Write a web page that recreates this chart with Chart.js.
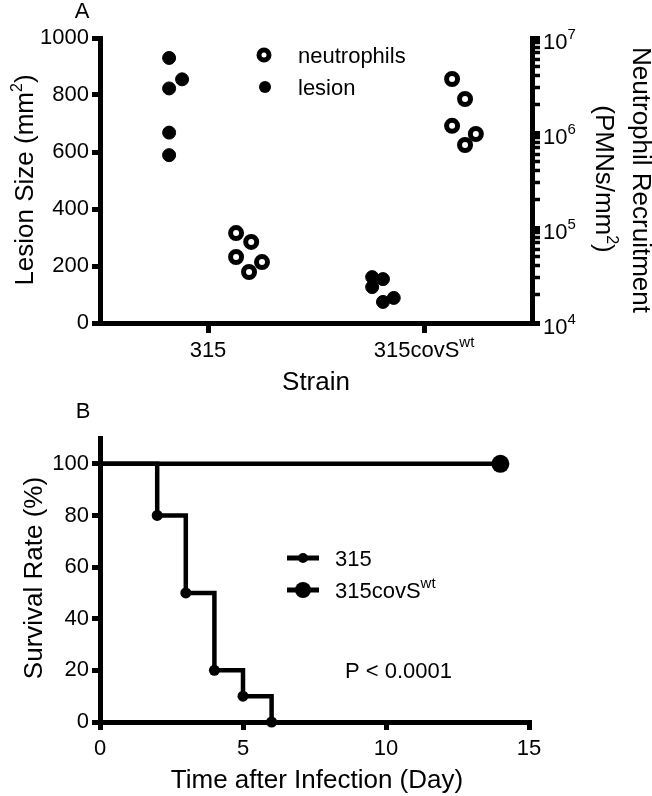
<!DOCTYPE html>
<html>
<head>
<meta charset="utf-8">
<script src="https://cdn.jsdelivr.net/npm/chart.js@4"></script>
<style>
  body { margin: 0; background: #fff; }
  #wrap { position: relative; width: 652px; height: 796px; }
  canvas { position: absolute; left: 0; }
  #top { top: 0; }
  #bottom { top: 390px; }
</style>
</head>
<body>
<div id="wrap">
  <canvas id="top" width="652" height="390"></canvas>
  <canvas id="bottom" width="652" height="406"></canvas>
</div>
<script>
// panel A
const strains = ['315', '315covS'];
const strainSup = ['', 'wt'];
const lesion315 = [930, 855, 823, 668, 589];
const lesion315Jitter = [-0.18, -0.12, -0.18, -0.18, -0.18];
const lesionCovS = [161, 154, 126, 74, 88];
const lesionCovSJitter = [-0.24, -0.19, -0.24, -0.19, -0.14];
const neutro315 = [88500, 71300, 49500, 43800, 34400];
const neutro315Jitter = [0.13, 0.2, 0.13, 0.25, 0.19];
const neutroCovS = [3700000, 2280000, 1190000, 976000, 748000];
const neutroCovSJitter = [0.13, 0.19, 0.13, 0.24, 0.19];
const lesionTicks = [0, 200, 400, 600, 800, 1000];
const neutroDecades = [4, 5, 6, 7];

// panel B
const days315 = [0, 2, 3, 4, 5, 6];
const survival315 = [100, 80, 50, 20, 10, 0];
const daysCovS = [0, 14];
const survivalCovS = [100, 100];
const survivalTicks = [0, 20, 40, 60, 80, 100];
const dayTicks = [0, 5, 10, 15];

const FONT = '"Liberation Sans", Arial, Helvetica, sans-serif';

function pts(cat, vals, jit) {
  return vals.map((v, i) => ({ x: cat + jit[i], y: v }));
}

// text with optional superscript parts: [[text, isSup], ...]
function drawRich(ctx, parts, x, y, o) {
  const size = o.size || 22;
  const supSize = o.supSize || Math.round(size * 0.62);
  const rise = o.rise || Math.round(size * 0.42);
  ctx.save();
  ctx.translate(x, y);
  if (o.angle) ctx.rotate(o.angle);
  ctx.fillStyle = '#000';
  ctx.textBaseline = 'alphabetic';
  ctx.textAlign = 'left';
  const widths = parts.map((p) => {
    ctx.font = (p[1] ? supSize : size) + 'px ' + FONT;
    return ctx.measureText(p[0]).width;
  });
  const total = widths.reduce((a, b) => a + b, 0);
  let cx = o.align === 'left' ? 0 : -total / 2;
  parts.forEach((p, i) => {
    ctx.font = (p[1] ? supSize : size) + 'px ' + FONT;
    ctx.fillText(p[0], cx, p[1] ? -rise : 0);
    cx += widths[i];
  });
  ctx.restore();
}

function axisStyle(tickLength) {
  return {
    border: { display: true, width: 5, color: '#000' },
    grid: {
      drawOnChartArea: false,
      drawTicks: true,
      tickLength: tickLength,
      tickWidth: 5,
      tickColor: '#000',
      lineWidth: 5,
      color: '#000',
    },
  };
}

const topLabels = {
  id: 'topLabels',
  afterDraw(chart) {
    const ctx = chart.ctx;
    const x = chart.scales.x;
    const yR = chart.scales.yR;
    drawRich(ctx, [['A']], 82, 18, { size: 22 });
    drawRich(ctx, [['Lesion Size (mm'], ['2', 1], [')']], 33, 180, { size: 26, angle: -Math.PI / 2 });
    drawRich(ctx, [['Neutrophil Recruitment']], 633, 180, { size: 26, angle: Math.PI / 2 });
    drawRich(ctx, [['(PMNs/mm'], ['2', 1], [')']], 596, 179, { size: 26, angle: Math.PI / 2 });
    strains.forEach((s, i) => {
      const parts = strainSup[i] ? [[s], [strainSup[i], 1]] : [[s]];
      drawRich(ctx, parts, x.getPixelForValue(i), 357, { size: 22, supSize: 15, rise: 10 });
    });
    drawRich(ctx, [['Strain']], 316, 390, { size: 26 });
    neutroDecades.forEach((e) => {
      const py = yR.getPixelForValue(Math.pow(10, e));
      drawRich(ctx, [['10'], [String(e), 1]], 543, py + 11, { size: 22, supSize: 15, rise: 10, align: 'left' });
    });
    // legend
    ctx.save();
    ctx.strokeStyle = '#000';
    ctx.fillStyle = '#fff';
    ctx.lineWidth = 5;
    ctx.beginPath();
    ctx.arc(264, 55, 5, 0, Math.PI * 2);
    ctx.fill();
    ctx.stroke();
    ctx.fillStyle = '#000';
    ctx.beginPath();
    ctx.arc(265, 87, 6, 0, Math.PI * 2);
    ctx.fill();
    ctx.restore();
    drawRich(ctx, [['neutrophils']], 298, 63, { size: 22, align: 'left' });
    drawRich(ctx, [['lesion']], 298, 95, { size: 22, align: 'left' });
  },
};

const xTop = axisStyle(10);
const yLeft = axisStyle(8);
const yRight = axisStyle(8);
yRight.grid.tickBorderDash = (c) => (c.tick && c.tick.major ? [] : [5, 60]);
yRight.grid.tickWidth = (c) => (c.tick && c.tick.major ? 5 : 3.5);

new Chart(document.getElementById('top'), {
  type: 'scatter',
  data: {
    datasets: [
      {
        label: 'lesion',
        data: pts(0, lesion315, lesion315Jitter).concat(pts(1, lesionCovS, lesionCovSJitter)),
        yAxisID: 'yL',
        pointRadius: 6.5,
        pointBorderWidth: 1,
        pointBackgroundColor: '#000',
        pointBorderColor: '#000',
      },
      {
        label: 'neutrophils',
        data: pts(0, neutro315, neutro315Jitter).concat(pts(1, neutroCovS, neutroCovSJitter)),
        yAxisID: 'yR',
        pointRadius: 5.5,
        pointBorderWidth: 5,
        pointBackgroundColor: '#fff',
        pointBorderColor: '#000',
      },
    ],
  },
  options: {
    responsive: false,
    animation: false,
    layout: { padding: { top: 38, left: 0, right: 0, bottom: 0 } },
    plugins: { legend: { display: false }, tooltip: { enabled: false } },
    scales: {
      x: {
        type: 'linear',
        min: -0.5,
        max: 1.5,
        ...xTop,
        afterBuildTicks: (s) => { s.ticks = strains.map((_, i) => ({ value: i })); },
        afterFit: (s) => { s.height = 67; },
        ticks: { autoSkip: false, callback: () => '' },
      },
      yL: {
        type: 'linear',
        position: 'left',
        min: 0,
        max: 1000,
        ...yLeft,
        afterBuildTicks: (s) => { s.ticks = lesionTicks.map((v) => ({ value: v })); },
        afterFit: (s) => { s.width = 100; },
        ticks: {
          autoSkip: false,
          padding: 3,
          color: '#000',
          font: { family: FONT, size: 22 },
          callback: (v) => String(v),
        },
      },
      yR: {
        type: 'logarithmic',
        position: 'right',
        min: 1e4,
        max: 1e7,
        ...yRight,
        afterBuildTicks: (s) => {
          const t = [];
          for (let e = neutroDecades[0]; e < neutroDecades[neutroDecades.length - 1]; e++) {
            for (let m = 1; m < 10; m++) t.push({ value: m * Math.pow(10, e), major: m === 1 });
          }
          t.push({ value: Math.pow(10, neutroDecades[neutroDecades.length - 1]), major: true });
          s.ticks = t;
        },
        afterFit: (s) => { s.width = 120; },
        ticks: { autoSkip: false, callback: () => '' },
      },
    },
  },
  plugins: [topLabels],
});

const bottomLabels = {
  id: 'bottomLabels',
  afterDraw(chart) {
    const ctx = chart.ctx;
    drawRich(ctx, [['B']], 83, 28, { size: 22 });
    drawRich(ctx, [['Survival Rate (%)']], 42, 188, { size: 26, angle: -Math.PI / 2 });
    drawRich(ctx, [['Time after Infection (Day)']], 317, 398, { size: 26 });
    ctx.save();
    ctx.strokeStyle = '#000';
    ctx.fillStyle = '#000';
    ctx.lineWidth = 5;
    [[168, 5], [200, 8]].forEach(([ly, r]) => {
      ctx.beginPath();
      ctx.moveTo(287, ly);
      ctx.lineTo(319, ly);
      ctx.stroke();
      ctx.beginPath();
      ctx.arc(303, ly, r, 0, Math.PI * 2);
      ctx.fill();
    });
    ctx.restore();
    drawRich(ctx, [['315']], 335, 176, { size: 22, align: 'left' });
    drawRich(ctx, [['315covS'], ['wt', 1]], 335, 208, { size: 22, supSize: 15, rise: 10, align: 'left' });
    drawRich(ctx, [['P < 0.0001']], 345, 288, { size: 22, align: 'left' });
  },
};

const xBot = axisStyle(8);
const yBot = axisStyle(8);

new Chart(document.getElementById('bottom'), {
  type: 'line',
  data: {
    datasets: [
      {
        label: '315',
        data: days315.map((d, i) => ({ x: d, y: survival315[i] })),
        stepped: 'before',
        borderColor: '#000',
        borderWidth: 4.5,
        pointRadius: (c) => (c.dataIndex === 0 ? 0 : 5.5),
        pointBackgroundColor: '#000',
        pointBorderColor: '#000',
        pointBorderWidth: 0,
        clip: false,
      },
      {
        label: '315covS',
        data: daysCovS.map((d, i) => ({ x: d, y: survivalCovS[i] })),
        borderColor: '#000',
        borderWidth: 4.5,
        pointRadius: (c) => (c.dataIndex === 0 ? 0 : 9),
        pointBackgroundColor: '#000',
        pointBorderColor: '#000',
        pointBorderWidth: 0,
        clip: false,
      },
    ],
  },
  options: {
    responsive: false,
    animation: false,
    layout: { padding: { top: 48, left: 0, right: 123, bottom: 0 } },
    plugins: { legend: { display: false }, tooltip: { enabled: false } },
    scales: {
      x: {
        type: 'linear',
        min: 0,
        max: 15,
        ...xBot,
        afterBuildTicks: (s) => { s.ticks = dayTicks.map((v) => ({ value: v })); },
        afterFit: (s) => { s.height = 74; },
        ticks: {
          autoSkip: false,
          padding: 6,
          color: '#000',
          font: { family: FONT, size: 22 },
          maxRotation: 0,
        },
      },
      y: {
        type: 'linear',
        min: 0,
        max: 110,
        ...yBot,
        afterBuildTicks: (s) => { s.ticks = survivalTicks.map((v) => ({ value: v })); },
        afterFit: (s) => { s.width = 100; },
        ticks: {
          autoSkip: false,
          padding: 3,
          color: '#000',
          font: { family: FONT, size: 22 },
        },
      },
    },
  },
  plugins: [bottomLabels],
});
</script>
</body>
</html>
